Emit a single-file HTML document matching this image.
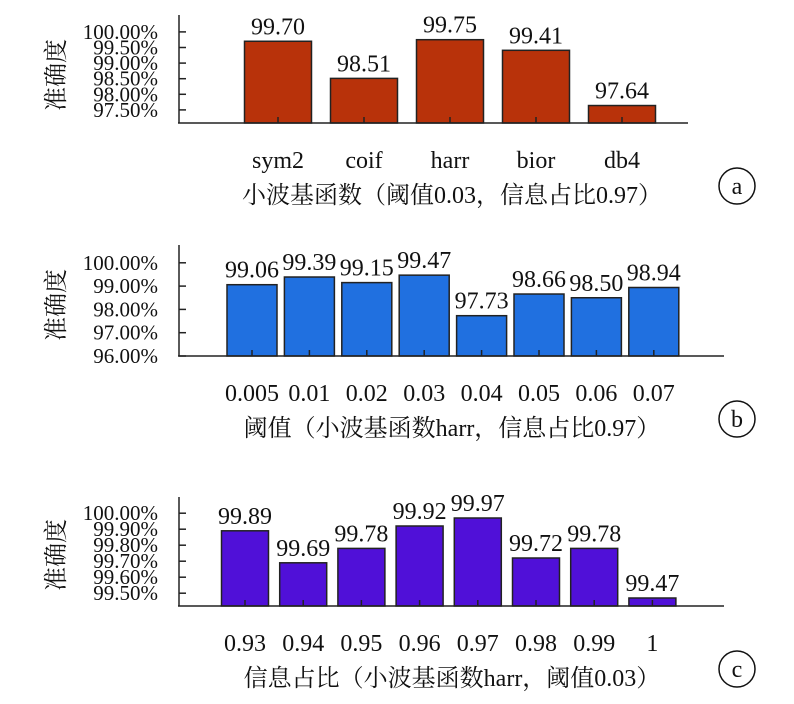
<!DOCTYPE html>
<html><head><meta charset="utf-8"><style>
body{margin:0;background:#fff}
svg text{font-family:"Liberation Serif","Noto Serif CJK SC",serif;fill:#111}
</style></head><body>
<svg id="s" width="794" height="699" xmlns="http://www.w3.org/2000/svg"></svg>
<script>
const catsA=["sym2","coif","harr","bior","db4"];
const valsA=[99.70,98.51,99.75,99.41,97.64];
const ticksA=[97.5,98.0,98.5,99.0,99.5,100.0];
const labelsA=["97.50%","98.00%","98.50%","99.00%","99.50%","100.00%"];
const catsB=["0.005","0.01","0.02","0.03","0.04","0.05","0.06","0.07"];
const valsB=[99.06,99.39,99.15,99.47,97.73,98.66,98.50,98.94];
const ticksB=[96,97,98,99,100];
const labelsB=["96.00%","97.00%","98.00%","99.00%","100.00%"];
const catsC=["0.93","0.94","0.95","0.96","0.97","0.98","0.99","1"];
const valsC=[99.89,99.69,99.78,99.92,99.97,99.72,99.78,99.47];
const ticksC=[99.5,99.6,99.7,99.8,99.9,100.0];
const labelsC=["99.50%","99.60%","99.70%","99.80%","99.90%","100.00%"];
const NS="http://www.w3.org/2000/svg";
const svg=document.getElementById('s');
function mk(t,a,p){const e=document.createElementNS(NS,t);for(const k in a)e.setAttribute(k,a[k]);(p||svg).appendChild(e);return e;}
function panel(cfg){
  const g=mk('g',{});
  
  
  const y=v=>cfg.base-(v-cfg.vmin)*cfg.ppu;
  const x=i=>cfg.x0+i*cfg.step;
  cfg.vals.forEach((v,i)=>{
    const r=mk('rect',{x:x(i)-cfg.bw/2,y:y(v),width:cfg.bw,height:cfg.base-y(v),fill:cfg.color,stroke:'#222','stroke-width':1.5},g);
    
    
    mk('line',{x1:x(i),x2:x(i),y1:cfg.base,y2:cfg.base-6,stroke:'#222','stroke-width':1.5},g);
    const t=mk('text',{x:x(i),y:y(v)-7,'text-anchor':'middle','font-size':24},g);
    t.textContent=v.toFixed(2);
    
    
    const c=mk('text',{x:x(i),y:cfg.base+45,'text-anchor':'middle','font-size':24},g);
    c.textContent=cfg.cats[i];
    
    
  });
  mk('line',{x1:179,x2:179,y1:cfg.top,y2:cfg.base,stroke:'#222','stroke-width':1.5},g);
  mk('line',{x1:178,x2:cfg.xend,y1:cfg.base,y2:cfg.base,stroke:'#222','stroke-width':1.5},g);
  cfg.ticks.forEach((tv,i)=>{
    mk('line',{x1:179,x2:186,y1:y(tv),y2:y(tv),stroke:'#222','stroke-width':1.5},g);
    const t=mk('text',{x:158,y:y(tv)+7,'text-anchor':'end','font-size':21},g);
    t.textContent=cfg.labels[i];
    
    
  });
  const yt=mk('text',{x:0,y:0,'font-size':24,'text-anchor':'middle',transform:`translate(64,${cfg.ty}) rotate(-90)`},g);
  yt.textContent='准确度';
  
  
  const xt=mk('text',{x:452,y:cfg.base+80,'text-anchor':'middle','font-size':24},g);
  xt.textContent=cfg.title;
  
  
  mk('circle',{cx:737,cy:cfg.base+63,r:18,fill:'none',stroke:'#111','stroke-width':1.5},g);
  const l=mk('text',{x:737,y:cfg.base+71,'text-anchor':'middle','font-size':24},g);
  l.textContent=cfg.letter;
  
  
}
panel({name:'panel-a',cats:catsA,vals:valsA,ticks:ticksA,labels:labelsA,vmin:97.08,ppu:31.2,base:123,top:15,x0:278,step:86,bw:67,xend:688,color:'#b8320a',title:'小波基函数（阈值0.03，信息占比0.97）',letter:'a',ty:75});
panel({name:'panel-b',cats:catsB,vals:valsB,ticks:ticksB,labels:labelsB,vmin:96,ppu:23.3,base:356,top:245,x0:252,step:57.4,bw:50,xend:724,color:'#2070e0',title:'阈值（小波基函数harr，信息占比0.97）',letter:'b',ty:305});
panel({name:'panel-c',cats:catsC,vals:valsC,ticks:ticksC,labels:labelsC,vmin:99.42,ppu:160,base:606,top:497,x0:245,step:58.2,bw:47,xend:724,color:'#5010d8',title:'信息占比（小波基函数harr，阈值0.03）',letter:'c',ty:555});
</script>
</body></html>
